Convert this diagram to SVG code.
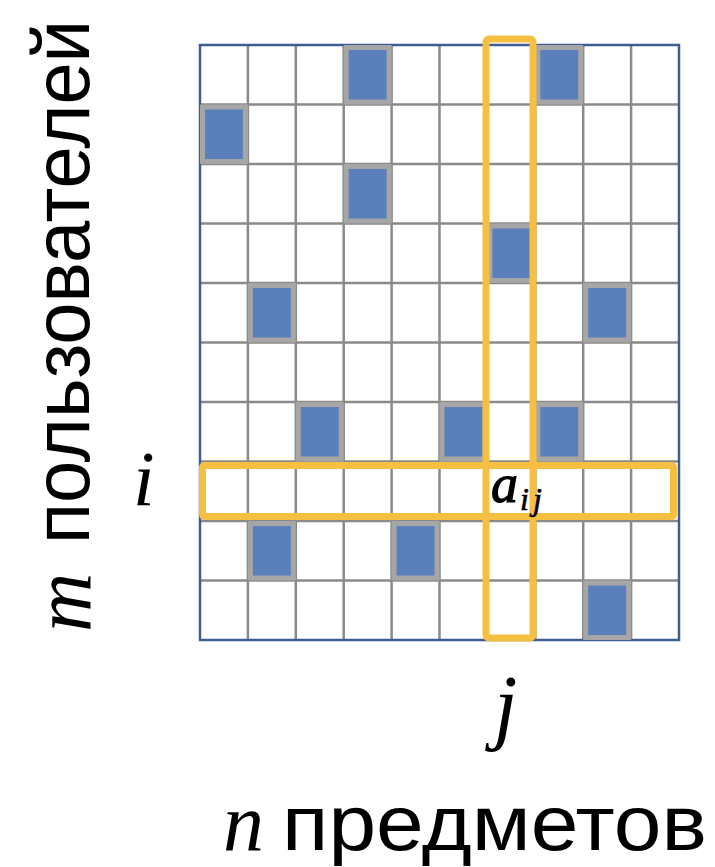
<svg xmlns="http://www.w3.org/2000/svg" width="715" height="867" viewBox="0 0 715 867">
<style>
.grid{stroke:#8a8a8a;stroke-width:2.5;fill:none}
.border{stroke:#3d5d93;stroke-width:2.5;fill:none}
.cell{fill:#5a7fba;stroke:#a6a6a6;stroke-width:5}
.hl{fill:none;stroke:#f5bf42;stroke-width:7}
.sans{font-family:"Liberation Sans",Arial,sans-serif;fill:#000}
.math{font-family:"Liberation Serif","Times New Roman",serif;font-style:italic;fill:#000}
</style>
<rect width="715" height="867" fill="#fff"/>
<g id="matrix">
<g id="gridlines" class="grid">
<path d="M247.9 45V640M295.8 45V640M343.7 45V640M391.6 45V640M439.5 45V640M487.4 45V640M535.3 45V640M583.2 45V640M631.1 45V640"/>
<path d="M200 104.5H679M200 164H679M200 223.5H679M200 283H679M200 342.5H679M200 402H679M200 461.5H679M200 521H679M200 580.5H679"/>
</g>
<rect id="frame" class="border" x="200" y="45" width="479" height="595"/>
<g id="cells">
<rect class="cell" x="346.2" y="47.5" width="42.9" height="54.5"/>
<rect class="cell" x="537.8" y="47.5" width="42.9" height="54.5"/>
<rect class="cell" x="202.5" y="107" width="42.9" height="54.5"/>
<rect class="cell" x="346.2" y="166.5" width="42.9" height="54.5"/>
<rect class="cell" x="489.9" y="226" width="42.9" height="54.5"/>
<rect class="cell" x="250.4" y="285.5" width="42.9" height="54.5"/>
<rect class="cell" x="585.7" y="285.5" width="42.9" height="54.5"/>
<rect class="cell" x="298.3" y="404.5" width="42.9" height="54.5"/>
<rect class="cell" x="442" y="404.5" width="42.9" height="54.5"/>
<rect class="cell" x="537.8" y="404.5" width="42.9" height="54.5"/>
<rect class="cell" x="250.4" y="523.5" width="42.9" height="54.5"/>
<rect class="cell" x="394.1" y="523.5" width="42.9" height="54.5"/>
<rect class="cell" x="585.7" y="583" width="42.9" height="54.5"/>
</g>
</g>
<g id="col-highlight"><rect class="hl" x="486" y="39" width="47" height="599" rx="3"/></g>
<g id="row-highlight"><rect class="hl" x="202.5" y="465.5" width="471" height="51" rx="2"/></g>
<g id="label-aij">
<text class="math" x="491" y="502" font-size="54" stroke="#000" stroke-width="1.2">a</text>
<text class="math" x="520" y="510" font-size="32" stroke="#000" stroke-width="0.6">i</text>
<text class="math" x="533" y="510" font-size="32" stroke="#000" stroke-width="0.6">j</text>
</g>
<g id="label-i"><text class="math" x="133" y="505" font-size="78">i</text></g>
<g id="label-j"><text class="math" x="494" y="734" font-size="84">j</text></g>
<g id="label-m">
<text class="math" transform="translate(90,632) rotate(-90)" font-size="82">m</text>
<text class="sans" transform="translate(89,544) rotate(-90)" font-size="79" textLength="524" lengthAdjust="spacingAndGlyphs">пользователей</text>
</g>
<g id="label-n">
<text class="math" x="223" y="850" font-size="82">n</text>
<text class="sans" x="282" y="850" font-size="78" textLength="425" lengthAdjust="spacingAndGlyphs">предметов</text>
</g>
</svg>
